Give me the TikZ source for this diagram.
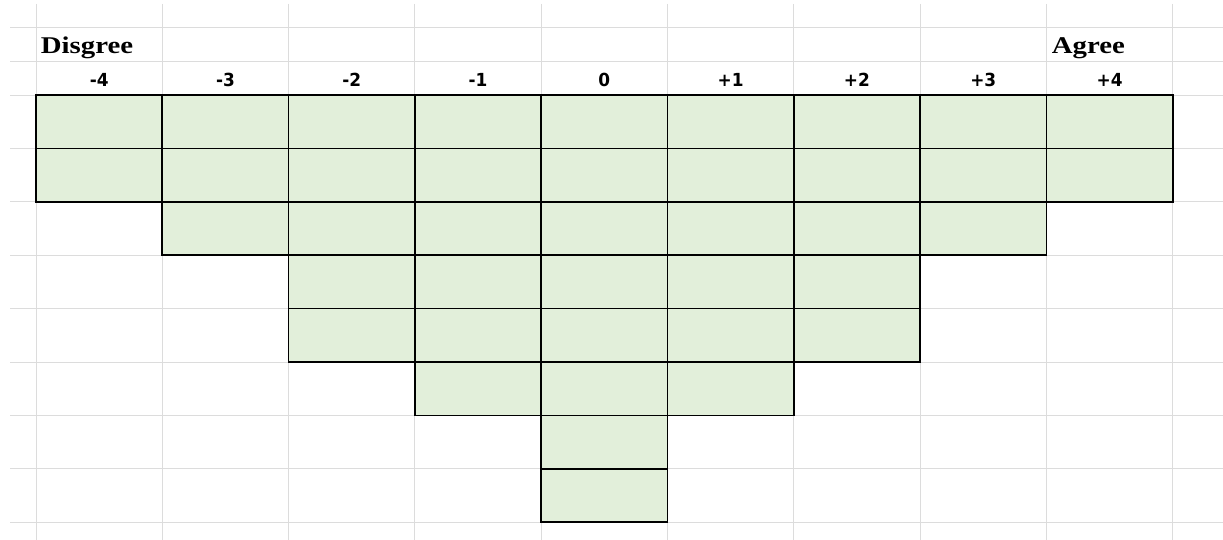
\documentclass[tikz,border=0pt]{standalone}
\usepackage{graphicx}
\usepackage{fontspec}
\setmainfont{Liberation Serif}
\newfontfamily\labfont{DejaVu Sans}
\definecolor{cellgreen}{HTML}{E2EFDA}
\definecolor{gridgray}{HTML}{DCDCDC}
\begin{document}
\begin{tikzpicture}[x=1pt,y=-1pt,
  cell/.style={draw=black,fill=cellgreen,line width=1.7pt,minimum width=126.3pt,minimum height=53.4pt,inner sep=0pt,outer sep=0pt,anchor=north west},
  gridline/.style={draw=gridgray,line width=0.9pt},
  colhead/.style={font=\labfont\bfseries\fontsize{18}{20}\selectfont,anchor=base,inner sep=0pt},
  endlabel/.style={font=\bfseries\fontsize{24}{28}\selectfont,anchor=base west,inner sep=0pt}]
\useasboundingbox (0,0) rectangle (1223,540);
\fill[white] (0,0) rectangle (1223,540);
% spreadsheet grid
\foreach \x in {0,...,9} \draw[gridline] ({36+126.3*\x},4) -- ({36+126.3*\x},540);
\foreach \y in {27,61.5,95,148.4,201.8,255.2,308.6,362,415.4,468.8,522.2} \draw[gridline] (10,\y) -- (1223,\y);
% cells
\foreach \n [count=\i from 0] in {2,3,5,6,8,6,5,3,2} {
  \foreach \j in {1,...,\n} {
    \node[cell] (c\i-\j) at ({36+126.3*\i},{95+53.4*(\j-1)}) {};
  }
}
% headers
\foreach \t [count=\i from 0] in {-4,-3,-2,-1,0,+1,+2,+3,+4}
  \node[colhead] (h\i) at ({36+126.3*(\i+0.5)},87) {\scalebox{0.94}[1]{\t}};
\node[endlabel] (dis) at (40.7,54) {\scalebox{1.2}[1]{Disgree}};
\node[endlabel] (agr) at (1051.7,54) {\scalebox{1.2}[1]{Agree}};
\end{tikzpicture}
\end{document}
